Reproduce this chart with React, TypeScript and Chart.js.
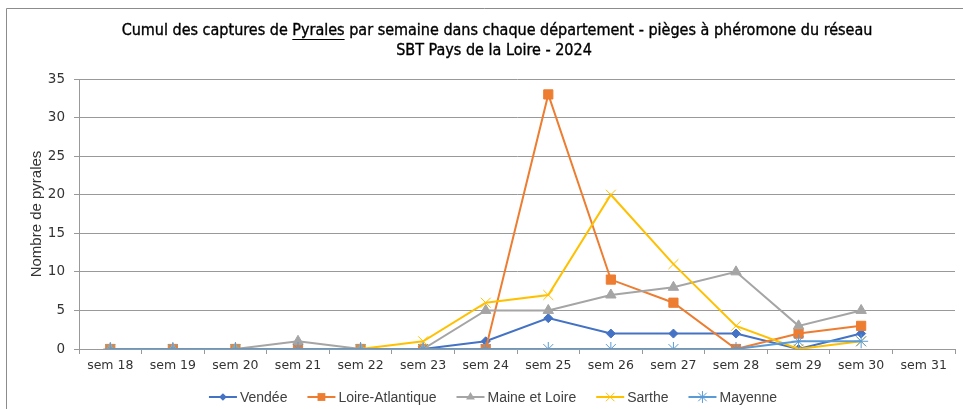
import React, { useEffect, useRef } from "react";
import { Chart, registerables } from "chart.js";

Chart.register(...registerables);

const weeks = ["sem 18", "sem 19", "sem 20", "sem 21", "sem 22", "sem 23", "sem 24", "sem 25", "sem 26", "sem 27", "sem 28", "sem 29", "sem 30", "sem 31"];
const vendee = [0, 0, 0, 0, 0, 0, 1, 4, 2, 2, 2, 0, 2, null];
const loireAtlantique = [0, 0, 0, 0, 0, 0, 0, 33, 9, 6, 0, 2, 3, null];
const maineEtLoire = [0, 0, 0, 1, 0, 0, 5, 5, 7, 8, 10, 3, 5, null];
const sarthe = [0, 0, 0, 0, 0, 1, 6, 7, 20, 11, 3, 0, 1, null];
const mayenne = [0, 0, 0, 0, 0, 0, 0, 0, 0, 0, 0, 1, 1, null];
const seriesNames = ["Vendée", "Loire-Atlantique", "Maine et Loire", "Sarthe", "Mayenne"];
const yTicks = [0, 5, 10, 15, 20, 25, 30, 35];

const titleLine1 = ["Cumul des captures de ", "Pyrales", " par semaine dans chaque département - pièges à phéromone du réseau"];
const titleLine2 = "SBT Pays de la Loire - 2024";
const yTitle = "Nombre de pyrales";

const COLORS = ["#4472C4", "#ED7D31", "#A5A5A5", "#FFC000", "#5B9BD5"];
const STYLES = ["rectRot", "rect", "triangle", "crossRot", "star"];
const RADII = [4.5, 6.5, 6, 7, 7];

const TITLE_FONT = '"DejaVu Sans Condensed", "Liberation Sans Narrow", sans-serif';
const TEXT_FONT = '"Liberation Sans", Arial, sans-serif';
const TICK_FONT = '"DejaVu Sans", Verdana, sans-serif';

function drawMarker(ctx: CanvasRenderingContext2D, style: string, x: number, y: number, r: number, color: string) {
  ctx.save();
  ctx.fillStyle = color;
  ctx.strokeStyle = color;
  ctx.lineWidth = 1;
  ctx.beginPath();
  if (style === "rectRot") {
    ctx.moveTo(x, y - r);
    ctx.lineTo(x + r, y);
    ctx.lineTo(x, y + r);
    ctx.lineTo(x - r, y);
    ctx.closePath();
    ctx.fill();
  } else if (style === "rect") {
    const s = r * Math.SQRT1_2;
    ctx.rect(x - s, y - s, 2 * s, 2 * s);
    ctx.fill();
  } else if (style === "triangle") {
    for (let i = 0; i < 3; i++) {
      const a = (i * 2 * Math.PI) / 3;
      const px = x + Math.sin(a) * r;
      const py = y - Math.cos(a) * r;
      if (i === 0) ctx.moveTo(px, py);
      else ctx.lineTo(px, py);
    }
    ctx.closePath();
    ctx.fill();
  } else if (style === "crossRot" || style === "star") {
    const o = r * Math.SQRT1_2;
    ctx.moveTo(x - o, y - o);
    ctx.lineTo(x + o, y + o);
    ctx.moveTo(x - o, y + o);
    ctx.lineTo(x + o, y - o);
    if (style === "star") {
      ctx.moveTo(x, y - r);
      ctx.lineTo(x, y + r);
      ctx.moveTo(x - r, y);
      ctx.lineTo(x + r, y);
    }
    ctx.stroke();
  }
  ctx.restore();
}

const decorPlugin = {
  id: "decor",
  beforeDraw(chart: any) {
    const ctx: CanvasRenderingContext2D = chart.ctx;
    ctx.save();
    ctx.fillStyle = "#ffffff";
    ctx.fillRect(0, 0, chart.width, chart.height);
    ctx.strokeStyle = "#8c8c8c";
    ctx.lineWidth = 1;
    ctx.beginPath();
    ctx.moveTo(6.5, chart.height);
    ctx.lineTo(6.5, 8.5);
    ctx.lineTo(chart.width, 8.5);
    ctx.stroke();
    ctx.restore();
  },
  afterDraw(chart: any) {
    const ctx: CanvasRenderingContext2D = chart.ctx;
    ctx.save();
    // Title
    const cx = 497;
    ctx.font = `16px ${TITLE_FONT}`;
    ctx.fillStyle = "#000000";
    ctx.strokeStyle = "#000000";
    ctx.lineWidth = 0.35;
    ctx.textBaseline = "middle";
    ctx.textAlign = "left";
    const widths = titleLine1.map((t) => ctx.measureText(t).width);
    const total = widths.reduce((a, b) => a + b, 0);
    let x = cx - total / 2;
    const y1 = 31;
    titleLine1.forEach((t, i) => {
      ctx.fillText(t, x, y1);
      ctx.strokeText(t, x, y1);
      if (i === 1) {
        ctx.lineWidth = 1;
        ctx.beginPath();
        ctx.moveTo(x, y1 + 8.5);
        ctx.lineTo(x + widths[i], y1 + 8.5);
        ctx.stroke();
        ctx.lineWidth = 0.35;
      }
      x += widths[i];
    });
    ctx.textAlign = "center";
    ctx.fillText(titleLine2, 494, 51);
    ctx.strokeText(titleLine2, 494, 51);

    // Legend
    ctx.font = `14px ${TEXT_FONT}`;
    ctx.textAlign = "left";
    const lineW = 28;
    const gap = 3;
    const spacing = 20;
    const items = chart.data.datasets.map((ds: any, i: number) => ({
      label: ds.label,
      w: ctx.measureText(ds.label).width,
      i,
    }));
    const legendTotal = items.reduce((a: number, it: any) => a + lineW + gap + it.w, 0) + spacing * (items.length - 1);
    let lx = 493 - legendTotal / 2;
    const ly = 397;
    items.forEach((it: any) => {
      const color = COLORS[it.i];
      ctx.strokeStyle = color;
      ctx.lineWidth = 2;
      ctx.beginPath();
      ctx.moveTo(lx, ly);
      ctx.lineTo(lx + lineW, ly);
      ctx.stroke();
      drawMarker(ctx, STYLES[it.i], lx + lineW / 2, ly, RADII[it.i] * 0.85, color);
      ctx.fillStyle = "#404040";
      ctx.fillText(it.label, lx + lineW + gap, ly + 1);
      lx += lineW + gap + it.w + spacing;
    });
    ctx.restore();
  },
};

export default function App() {
  const ref = useRef<HTMLCanvasElement | null>(null);
  useEffect(() => {
    if (!ref.current) return;
    const seriesData = [vendee, loireAtlantique, maineEtLoire, sarthe, mayenne];
    const chart = new Chart(ref.current, {
      type: "line",
      data: {
        labels: weeks,
        datasets: seriesData.map((d, i) => ({
          label: seriesNames[i],
          data: d,
          borderColor: COLORS[i],
          backgroundColor: COLORS[i],
          pointBackgroundColor: COLORS[i],
          pointBorderColor: COLORS[i],
          pointBorderWidth: 1,
          pointStyle: STYLES[i] as any,
          pointRadius: RADII[i],
          borderWidth: 2,
          tension: 0,
          fill: false,
          order: 5 - i,
        })),
      },
      options: {
        responsive: false,
        animation: false,
        layout: { padding: { top: 79, left: 0, right: 5, bottom: 30 } },
        plugins: {
          legend: { display: false },
          title: { display: false },
          tooltip: { enabled: false },
        },
        scales: {
          x: {
            type: "category",
            offset: true,
            grid: {
              offset: true,
              drawOnChartArea: false,
              drawTicks: true,
              tickLength: 5,
              color: "#999999",
            },
            border: { color: "#999999", width: 1 },
            ticks: {
              font: { family: TICK_FONT, size: 12.5 },
              color: "#333333",
              padding: 4,
              maxRotation: 0,
              autoSkip: false,
            },
            afterFit(scale: any) {
              scale.height = 30;
            },
          },
          y: {
            min: 0,
            max: 35,
            afterBuildTicks(scale: any) {
              scale.ticks = yTicks.map((v) => ({ value: v }));
            },
            grid: {
              color: "#999999",
              tickLength: 5,
              drawTicks: true,
            },
            border: { color: "#999999", width: 1 },
            ticks: {
              font: { family: TICK_FONT, size: 13.5 },
              color: "#333333",
              padding: 9,
            },
            title: {
              display: true,
              text: yTitle,
              font: { family: TEXT_FONT, size: 15 },
              color: "#333333",
              padding: { top: 28, bottom: 0 },
            },
            afterFit(scale: any) {
              scale.width = 79;
            },
          },
        },
      },
      plugins: [decorPlugin],
    });
    return () => chart.destroy();
  }, []);
  return (
    <div style={{ position: "absolute", left: 0, top: 0, width: 963, height: 409 }}>
      <canvas ref={ref} width={963} height={409} style={{ display: "block" }} />
    </div>
  );
}
